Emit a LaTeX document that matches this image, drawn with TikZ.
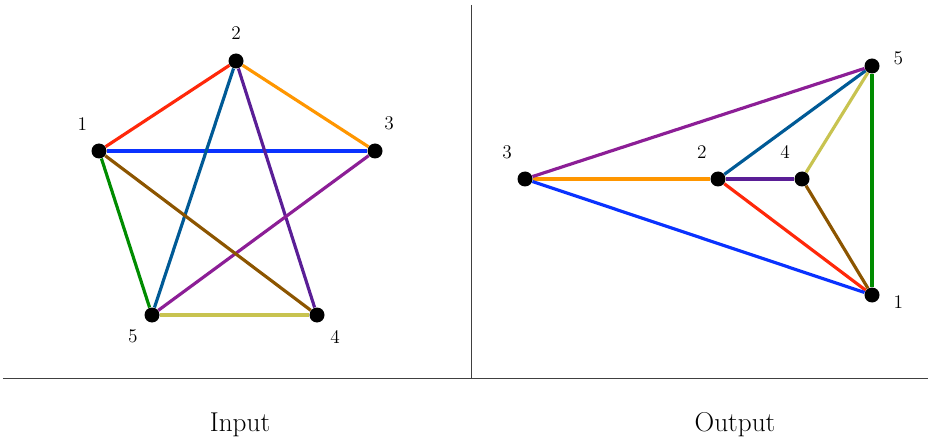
\documentclass[tikz,border=0pt]{standalone}
\usepackage{xcolor}
\usepackage{tikz}
\usetikzlibrary{positioning, backgrounds}
\definecolor{edgered}{RGB}{255, 40, 10}
\definecolor{edgeorange}{RGB}{255, 150, 0}
\definecolor{edgeblue}{RGB}{10, 50, 255}
\definecolor{edgeteal}{RGB}{0, 90, 150}
\definecolor{edgeindigo}{RGB}{90, 30, 150}
\definecolor{edgeviolet}{RGB}{140, 30, 150}
\definecolor{edgebrown}{RGB}{140, 85, 0}
\definecolor{edgegreen}{RGB}{0, 140, 0}
\definecolor{edgeolive}{RGB}{200, 195, 80}

\begin{document}
\begin{tikzpicture}[
    vertex/.style={circle, fill=black, inner sep=0pt, minimum size=0.3cm},
    lbl/.style={font=\fontsize{11}{13}\selectfont, label distance=0.15cm},
    edge/.style={line width=1.8pt},
    frame/.style={draw=black!75, line width=0.5pt}
  ]
    \useasboundingbox (0,0) rectangle (18.56,8.8);
    % Panel separators
    \draw[frame] (9.42,8.7) -- (9.42,1.24);
    \draw[frame] (0.06,1.24) -- (18.56,1.24);
    % Input graph
    \node[vertex, label={[lbl]112:1}] (i1) at (1.98,5.78) {};
    \node[vertex, label={[lbl]90:2}]  (i2) at (4.72,7.58) {};
    \node[vertex, label={[lbl]78:3}]  (i3) at (7.50,5.78) {};
    \node[vertex, label={[lbl, label distance=0.08cm]-53:4}] (i4) at (6.34,2.50) {};
    \node[vertex, label={[lbl, label distance=0.08cm]-133:5}] (i5) at (3.04,2.50) {};
    % Output graph
    \node[vertex, label={[lbl]117:3}] (o3) at (10.50,5.22) {};
    \node[vertex, label={[lbl]110:2}] (o2) at (14.36,5.22) {};
    \node[vertex, label={[lbl]113:4}] (o4) at (16.04,5.22) {};
    \node[vertex, label={[lbl, yshift=0.16cm]0:5}]  (o5) at (17.44,7.48) {};
    \node[vertex, label={[lbl, yshift=-0.14cm]0:1}] (o1) at (17.44,2.90) {};
    % Edges, same colour in both panels
    \begin{scope}[on background layer]
        \foreach \u/\v/\c in {1/2/edgered, 2/3/edgeorange, 1/3/edgeblue, 2/5/edgeteal,
                              2/4/edgeindigo, 3/5/edgeviolet, 1/4/edgebrown, 1/5/edgegreen,
                              5/4/edgeolive} {
            \draw[edge, \c] (i\u) -- (i\v);
            \draw[edge, \c] (o\u) -- (o\v);
        }
    \end{scope}
    % Captions
    \node[font=\fontsize{15.5}{18}\selectfont] (input) at (4.80,0.30) {Input};
    \node[font=\fontsize{15.5}{18}\selectfont] (output) at (14.70,0.30) {Output};
\end{tikzpicture}
\end{document}
